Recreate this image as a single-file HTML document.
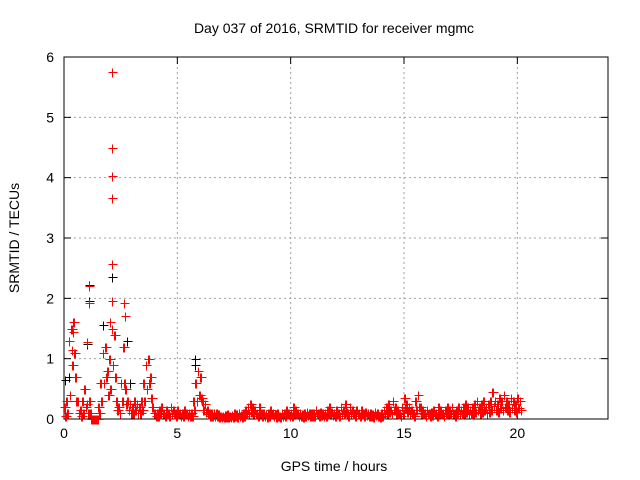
<!DOCTYPE html>
<html><head><meta charset="utf-8"><style>
body{margin:0;background:#fff;}
svg{display:block;font-family:"Liberation Sans",sans-serif;}
</style></head><body>
<svg id="chart" width="640" height="480" viewBox="0 0 640 480">
<rect width="640" height="480" fill="#fff"/>
<g id="grid"></g>
<g id="axes"></g>
<g id="black" shape-rendering="crispEdges"></g>
<g id="red" shape-rendering="crispEdges"></g>
<text x="334" y="33" font-size="14" text-anchor="middle">Day 037 of 2016, SRMTID for receiver mgmc</text>
<text x="334" y="471" font-size="14" text-anchor="middle">GPS time / hours</text>
<text x="0" y="0" font-size="14" text-anchor="middle" transform="translate(19,238) rotate(-90)">SRMTID / TECUs</text>
</svg>
<script>
const xTicks=[0,5,10,15,20];
const yTicks=[0,1,2,3,4,5,6];
const redStart=0, redStep=0.1;
const redValues=[0.2,0.3,1.3,1.5,1.6,0.7,0.3,0.15,0.3,0.5,
0.25,0.3,0.0,0.0,0.0,0.2,0.6,1.1,1.2,0.8,
1.0,1.5,1.4,0.3,0.2,0.6,1.2,0.5,0.3,0.25,
0.2,0.3,0.25,0.2,0.3,0.6,0.9,1.0,0.7,0.2,
0.1,0.1,0.15,0.2,0.1,0.15,0.1,0.2,0.15,0.1,
0.15,0.1,0.1,0.15,0.1,0.1,0.1,0.3,0.6,0.8,
0.7,0.3,0.25,0.15,0.1,0.1,0.1,0.1,0.08,0.05,
0.05,0.06,0.08,0.05,0.06,0.1,0.08,0.1,0.06,0.1,
0.15,0.2,0.25,0.2,0.15,0.1,0.2,0.1,0.1,0.08,
0.1,0.15,0.1,0.08,0.1,0.05,0.1,0.1,0.15,0.1,
0.1,0.2,0.15,0.1,0.1,0.08,0.1,0.12,0.1,0.1,
0.1,0.15,0.1,0.12,0.1,0.1,0.15,0.2,0.12,0.1,
0.15,0.1,0.2,0.15,0.25,0.1,0.2,0.15,0.1,0.15,
0.1,0.15,0.1,0.12,0.1,0.1,0.08,0.12,0.1,0.05,
0.1,0.15,0.2,0.25,0.15,0.3,0.2,0.15,0.1,0.2,
0.35,0.25,0.2,0.15,0.1,0.3,0.4,0.2,0.15,0.1,
0.15,0.1,0.12,0.15,0.1,0.2,0.15,0.1,0.15,0.2,
0.15,0.2,0.1,0.15,0.2,0.15,0.2,0.25,0.2,0.15,
0.2,0.25,0.3,0.2,0.25,0.3,0.2,0.25,0.3,0.45,
0.3,0.25,0.35,0.3,0.4,0.3,0.25,0.35,0.3,0.25,
0.35,0.3];
const redLow=[0.05,0.1,0.4,0.9,1.1,0.3,0.1,0.05,0.1,0.2,
0.1,0.1,0.0,0.0,0.0,0.1,0.3,0.6,0.7,0.4,
0.5,0.9,0.7,0.15,0.1,0.3,0.6,0.25,0.15,0.1,
0.1,0.15,0.1,0.1,0.15,0.3,0.5,0.6,0.35,0.1,
0.05,0.05,0.08,0.1,0.05,0.08,0.05,0.1,0.08,0.05,
0.08,0.05,0.05,0.08,0.05,0.05,0.05,0.15,0.3,0.4,
0.35,0.15,0.12,0.08,0.05,0.05,0.05,0.05,0.04,0.03,
0.03,0.03,0.04,0.03,0.03,0.05,0.04,0.05,0.03,0.05,
0.08,0.1,0.12,0.1,0.08,0.05,0.1,0.05,0.05,0.04,
0.05,0.08,0.05,0.04,0.05,0.03,0.05,0.05,0.08,0.05,
0.05,0.1,0.08,0.05,0.05,0.04,0.05,0.06,0.05,0.05,
0.05,0.08,0.05,0.06,0.05,0.05,0.08,0.1,0.06,0.05,
0.08,0.05,0.1,0.08,0.12,0.05,0.1,0.08,0.05,0.08,
0.05,0.08,0.05,0.06,0.05,0.05,0.04,0.06,0.05,0.03,
0.05,0.08,0.1,0.12,0.08,0.15,0.1,0.08,0.05,0.1,
0.18,0.12,0.1,0.08,0.05,0.15,0.2,0.1,0.08,0.05,
0.08,0.05,0.06,0.08,0.05,0.1,0.08,0.05,0.08,0.1,
0.08,0.1,0.05,0.08,0.1,0.08,0.1,0.12,0.1,0.08,
0.1,0.12,0.15,0.1,0.12,0.15,0.1,0.12,0.15,0.22,
0.15,0.12,0.18,0.15,0.2,0.15,0.12,0.18,0.15,0.12,
0.18,0.15];
const redExtraX=[2.1,2.1,2.1,2.1,2.1,2.1,1.1,1.1,1.0,2.65,2.7,0.4,0.35,2.05];
const redExtraY=[5.75,4.5,4.03,3.67,2.57,1.95,2.2,1.93,1.27,1.93,1.7,1.45,1.15,1.6];
const blackX=[0.2,1.1,1.1,1.7,2.1,2.1,2.8,5.8,5.8,0.4,1.0,3.7,2.9,0.05];
const blackY=[0.7,2.22,1.95,1.55,2.35,1.95,1.3,1.0,0.9,1.45,1.25,1.0,0.6,0.65];

const X0=64,X1=608,Y0=419,Y1=57;
const sx=v=>X0+(v/24)*(X1-X0);
const sy=v=>Y0-(v/6)*(Y0-Y1);
const NS='http://www.w3.org/2000/svg';
function mk(tag,attrs,parent){const e=document.createElementNS(NS,tag);for(const k in attrs)e.setAttribute(k,attrs[k]);parent.appendChild(e);return e;}
const grid=document.getElementById('grid'),axes=document.getElementById('axes');
xTicks.forEach(t=>{
  const x=sx(t);
  if(t>0){const g=mk('line',{x1:x,y1:Y0,x2:x,y2:Y1,stroke:'#a0a0a0','stroke-dasharray':'2,3'},grid);
  
  }
  const l=mk('text',{x:x,y:Y0+19,'font-size':14,'text-anchor':'middle'},axes);l.textContent=t;
  
  
  mk('line',{x1:x,y1:Y0,x2:x,y2:Y0-7,stroke:'#000'},axes);
  mk('line',{x1:x,y1:Y1,x2:x,y2:Y1+7,stroke:'#000'},axes);
});
yTicks.forEach(t=>{
  const y=sy(t);
  if(t>0&&t<6){const g=mk('line',{x1:X0,y1:y,x2:X1,y2:y,stroke:'#a0a0a0','stroke-dasharray':'2,3'},grid);
  
  }
  const l=mk('text',{x:X0-10,y:y+5,'font-size':14,'text-anchor':'end'},axes);l.textContent=t;
  
  
  mk('line',{x1:X0,y1:y,x2:X0+7,y2:y,stroke:'#000'},axes);
  mk('line',{x1:X1,y1:y,x2:X1-7,y2:y,stroke:'#000'},axes);
});
const fr=mk('rect',{x:X0,y:Y1,width:X1-X0,height:Y0-Y1,fill:'none',stroke:'#000'},axes);


function plus(g,x,y,c){
  const px=Math.round(sx(x))+0.5,py=Math.round(sy(y))+0.5;
  mk('path',{d:`M${px-4},${py}h9M${px},${py-4}v9`,stroke:c,'stroke-width':1,fill:'none'},g);
}
const bg=document.getElementById('black'),rg=document.getElementById('red');
blackX.forEach((x,i)=>plus(bg,x,blackY[i],'#000'));
redValues.forEach((v,i)=>{
  const x=redStart+i*redStep;
  plus(rg,x,v,'#f00');plus(rg,x+0.033,v,'#f00');
  plus(rg,x+0.05,redLow[i],'#f00');plus(rg,x+0.083,redLow[i],'#f00');
});
redExtraX.forEach((x,i)=>plus(rg,x,redExtraY[i],'#f00'));
</script>
</body></html>
